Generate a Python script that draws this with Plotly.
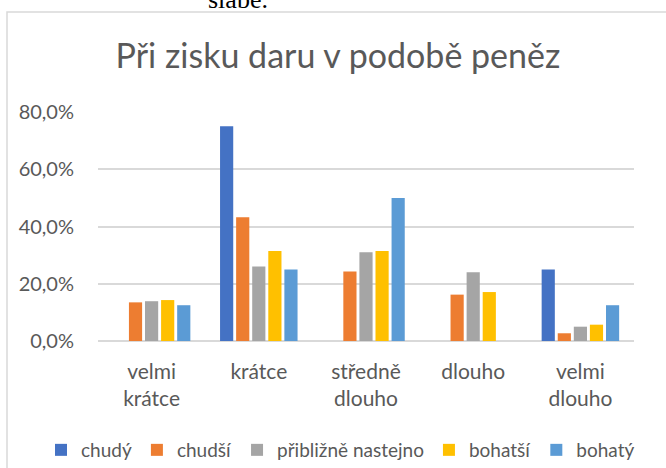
import plotly.graph_objects as go

categories = ["velmi<br>krátce", "krátce", "středně<br>dlouho", "dlouho", "velmi<br>dlouho"]
series_names = ["chudý", "chudší", "přibližně nastejno", "bohatší", "bohatý"]
chudy = [0, 75.0, 0, 0, 25.0]
chudsi = [13.5, 43.2, 24.3, 16.2, 2.7]
priblizne = [13.9, 26.0, 31.0, 24.0, 5.0]
bohatsi = [14.3, 31.4, 31.4, 17.1, 5.7]
bohaty = [12.5, 25.0, 50.0, 0, 12.5]
tick_vals = [0, 20, 40, 60, 80]
tick_text = ["0,0%", "20,0%", "40,0%", "60,0%", "80,0%"]
colors = ["#4472C4", "#ED7D31", "#A5A5A5", "#FFC000", "#5B9BD5"]

FONT = "Lato"
GREY = "#595959"

fig = go.Figure()
for name, vals, col in zip(series_names, [chudy, chudsi, priblizne, bohatsi, bohaty], colors):
    fig.add_trace(go.Bar(x=categories, y=vals, name=name, marker=dict(color=col, line=dict(width=0)),
                         hovertemplate="%{y:.1f}%<extra>" + name + "</extra>"))

W, H = 666, 468
L, R, T, B = 98, 634, 112, 341
def px(x):
    return (x - L) / (R - L)
def py(y):
    return (B - y) / (B - T)

fig.update_layout(
    width=W, height=H,
    margin=dict(l=L, r=W - R, t=T, b=H - B, autoexpand=False),
    paper_bgcolor="white", plot_bgcolor="white",
    barmode="group", bargap=0.25, bargroupgap=0.18,
    font=dict(family=FONT, color=GREY, size=20),
    title=dict(text="Při zisku daru v podobě peněz", font=dict(family=FONT, size=34, color=GREY),
               x=338 / W, xanchor="center", xref="container",
               y=1 - 56 / H, yanchor="middle", yref="container"),
    xaxis=dict(showgrid=False, showline=False, ticks="", ticklabelstandoff=16,
               tickfont=dict(size=21, color=GREY)),
    yaxis=dict(range=[0, 80], tickvals=tick_vals, ticktext=tick_text, showgrid=True,
               gridcolor="#D9D9D9", gridwidth=1.5, zeroline=True, zerolinecolor="#D9D9D9",
               zerolinewidth=1.5, showline=False, ticks="", ticklabelstandoff=23,
               tickfont=dict(size=20, color=GREY)),
    legend=dict(orientation="h", xref="paper", yref="paper", x=px(41), xanchor="left",
                y=py(450), yanchor="middle",
                font=dict(size=19, color=GREY), itemwidth=30, traceorder="normal"),
    shapes=[dict(type="rect", xref="paper", yref="paper", x0=px(7), x1=px(720), y0=py(12), y1=py(520),
                 line=dict(color="#D9D9D9", width=1.5), fillcolor="rgba(0,0,0,0)", layer="below")],
    annotations=[dict(text="slabé.", xref="paper", yref="paper", x=px(238), y=py(-1), xanchor="center",
                      yanchor="middle", showarrow=False,
                      font=dict(family="Liberation Serif", size=26, color="black"))],
)

fig.write_html("out.html", config={"displayModeBar": False},
               post_script="document.body.style.margin='0';")
